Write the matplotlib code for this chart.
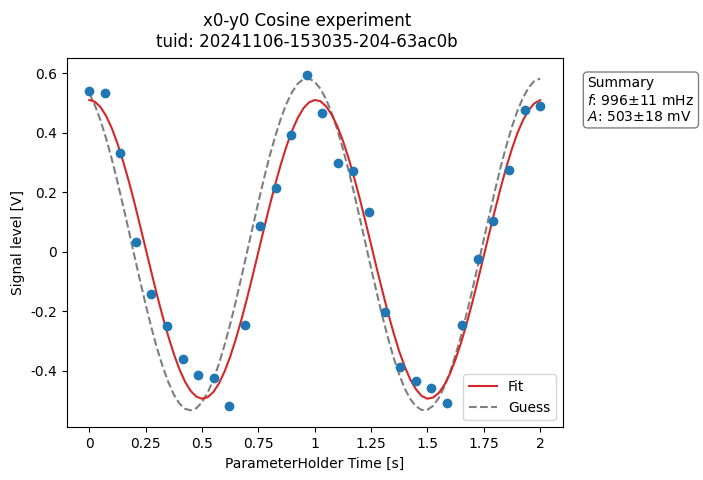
import matplotlib
matplotlib.use("Agg")
import matplotlib.pyplot as plt
from matplotlib.ticker import FixedLocator, FixedFormatter

# Measured data points
x_data = [0.0, 0.069, 0.138, 0.207, 0.276, 0.345, 0.414, 0.483, 0.552, 0.621,
          0.690, 0.759, 0.828, 0.897, 0.966, 1.034, 1.103, 1.172, 1.241, 1.310,
          1.379, 1.448, 1.517, 1.586, 1.655, 1.724, 1.793, 1.862, 1.931, 2.0]
y_data = [0.541, 0.533, 0.331, 0.033, -0.143, -0.250, -0.361, -0.413, -0.425, -0.520,
          -0.247, 0.086, 0.213, 0.393, 0.595, 0.466, 0.298, 0.272, 0.134, -0.201,
          -0.389, -0.436, -0.457, -0.509, -0.247, -0.026, 0.103, 0.274, 0.477, 0.491]

# Curves read at steps of 0.025 s
x_curve = [i * 0.025 for i in range(81)]
y_fit = [0.510, 0.504, 0.486, 0.456, 0.415, 0.364, 0.304, 0.238, 0.166, 0.089,
         0.011, -0.067, -0.144, -0.216, -0.283, -0.343, -0.395, -0.437, -0.468, -0.487,
         -0.494, -0.489, -0.472, -0.443, -0.403, -0.353, -0.294, -0.228, -0.156, -0.080,
         -0.001, 0.077, 0.154, 0.227, 0.294, 0.355, 0.407, 0.450, 0.482, 0.502,
         0.510, 0.506, 0.489, 0.461, 0.422, 0.373, 0.315, 0.249, 0.178, 0.102,
         0.024, -0.055, -0.131, -0.205, -0.273, -0.335, -0.387, -0.431, -0.463, -0.485,
         -0.494, -0.490, -0.475, -0.448, -0.410, -0.361, -0.304, -0.239, -0.168, -0.092,
         -0.014, 0.064, 0.141, 0.215, 0.284, 0.346, 0.400, 0.444, 0.477, 0.499,
         0.509]
y_guess = [0.533, 0.492, 0.441, 0.380, 0.311, 0.235, 0.155, 0.072, -0.013, -0.096,
           -0.177, -0.253, -0.323, -0.384, -0.437, -0.480, -0.510, -0.528, -0.533, -0.526,
           -0.506, -0.474, -0.431, -0.377, -0.314, -0.244, -0.167, -0.085, -0.001, 0.083,
           0.166, 0.246, 0.321, 0.388, 0.448, 0.498, 0.537, 0.565, 0.580, 0.582,
           0.571, 0.548, 0.513, 0.467, 0.411, 0.346, 0.274, 0.196, 0.113, 0.029,
           -0.055, -0.137, -0.217, -0.289, -0.356, -0.413, -0.461, -0.496, -0.520, -0.532,
           -0.531, -0.518, -0.492, -0.454, -0.405, -0.346, -0.280, -0.205, -0.126, -0.043,
           0.041, 0.125, 0.207, 0.285, 0.356, 0.420, 0.475, 0.519, 0.553, 0.574,
           0.582]

x_ticks = [0, 0.25, 0.5, 0.75, 1.0, 1.25, 1.5, 1.75, 2.0]
x_tick_labels = ["0", "0.25", "0.5", "0.75", "1", "1.25", "1.5", "1.75", "2"]
y_ticks = [-0.4, -0.2, 0.0, 0.2, 0.4, 0.6]
y_tick_labels = ["-0.4", "-0.2", "0", "0.2", "0.4", "0.6"]

fig = plt.figure(figsize=(7.03, 4.8), dpi=100)
ax = fig.add_axes([0.0949, 0.1098, 0.7055, 0.77])

ax.plot(x_data, y_data, "o", color="#1f77b4", markersize=6, zorder=3)
ax.plot(x_curve, y_fit, "-", color="#d62728", lw=1.5, label="Fit", zorder=2)
ax.plot(x_curve, y_guess, "--", color="#7f7f7f", lw=1.5, label="Guess", zorder=1)

ax.set_xlim(-0.1, 2.1)
ax.set_ylim(-0.590, 0.652)
ax.xaxis.set_major_locator(FixedLocator(x_ticks))
ax.xaxis.set_major_formatter(FixedFormatter(x_tick_labels))
ax.yaxis.set_major_locator(FixedLocator(y_ticks))
ax.yaxis.set_major_formatter(FixedFormatter(y_tick_labels))

ax.set_xlabel("ParameterHolder Time [s]")
ax.set_ylabel("Signal level [V]")
ax.legend(loc="lower right")

fig.suptitle("x0-y0 Cosine experiment\ntuid: 20241106-153035-204-63ac0b",
             x=306.7 / 703, y=0.975, fontsize=12)

ax.text(1.05, 0.95, "Summary\n$f$: 996±11 mHz\n$A$: 503±18 mV",
        transform=ax.transAxes, fontsize=10, va="top", ha="left",
        bbox=dict(boxstyle="round", facecolor="white", alpha=0.5))

fig.savefig("out.png", dpi=100)
